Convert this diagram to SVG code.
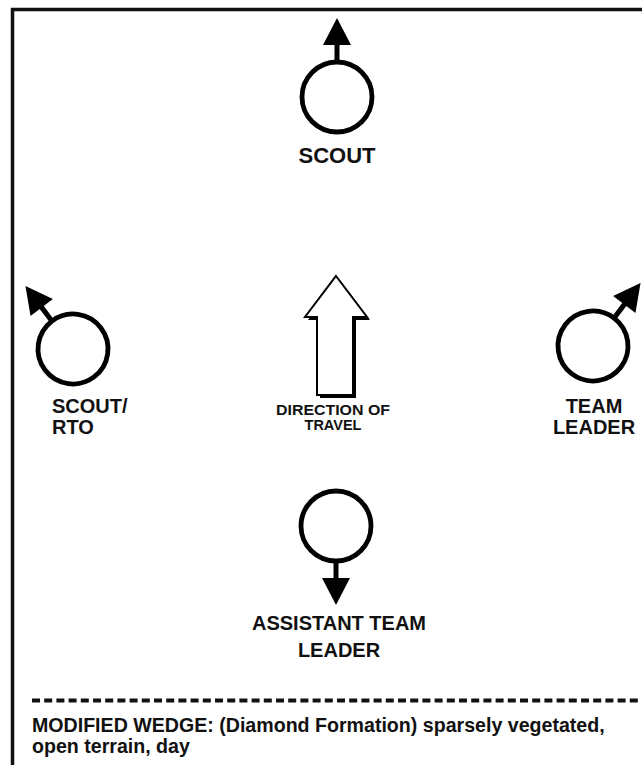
<svg xmlns="http://www.w3.org/2000/svg" xmlns:xlink="http://www.w3.org/1999/xlink" width="642" height="765" viewBox="0 0 642 765">
<style>
.ring{fill:none;stroke:#000;stroke-width:4.8}
.stem{stroke:#000;stroke-width:5}
.head{fill:#000}
text{font-family:"Liberation Sans",Arial,Helvetica,sans-serif;font-weight:bold;fill:#111}
.lbl{font-size:20px}
.frame{stroke:#111;stroke-width:3.5;fill:none}
</style>
<defs>
<g id="male">
<circle class="ring" cx="0" cy="0" r="35"/>
<line class="stem" x1="0" y1="-36" x2="0" y2="-54"/>
<polygon class="head" points="-14,-52 14,-52 0,-79"/>
</g>
</defs>
<rect x="0" y="0" width="642" height="765" fill="#fff"/>
<g id="frame">
<line class="frame" x1="11" y1="9.5" x2="642" y2="9.5"/>
<line class="frame" x1="12.5" y1="8" x2="12.5" y2="765"/>
</g>
<g id="connectors"></g>
<g id="scout">
<use xlink:href="#male" href="#male" transform="translate(337,97)"/>
<text x="337" y="163" font-size="22" text-anchor="middle">SCOUT</text>
</g>
<g id="scout-rto">
<use xlink:href="#male" href="#male" transform="translate(73,349) rotate(-37)"/>
<text class="lbl" x="52" y="413">SCOUT/</text>
<text class="lbl" x="52" y="434">RTO</text>
</g>
<g id="team-leader">
<use xlink:href="#male" href="#male" transform="translate(593,346) rotate(37)"/>
<text class="lbl" x="594" y="413" text-anchor="middle">TEAM</text>
<text class="lbl" x="594" y="434" text-anchor="middle">LEADER</text>
</g>
<g id="direction">
<polygon points="339,279 370,320 356,320 356,398 320,398 320,320 308,320" fill="#000"/>
<polygon points="336,276 367,317 353,317 353,395 317,395 317,317 305,317" fill="#fff" stroke="#000" stroke-width="2"/>
<text x="333" y="415" font-size="14.5" text-anchor="middle" textLength="114" lengthAdjust="spacingAndGlyphs">DIRECTION OF</text>
<text x="333" y="430" font-size="14.5" text-anchor="middle">TRAVEL</text>
</g>
<g id="assistant-team-leader">
<use xlink:href="#male" href="#male" transform="translate(336,526) rotate(180)"/>
<text class="lbl" x="339" y="630" font-size="21" text-anchor="middle">ASSISTANT TEAM</text>
<text class="lbl" x="339" y="657" font-size="21" text-anchor="middle">LEADER</text>
</g>
<g id="caption">
<line x1="32" y1="700.5" x2="642" y2="700.5" stroke="#111" stroke-width="4" stroke-dasharray="8,4.2"/>
<text x="32" y="732" font-size="19.6">MODIFIED WEDGE: (Diamond Formation) sparsely vegetated,</text>
<text x="32" y="753" font-size="19.6">open terrain, day</text>
</g>
</svg>
